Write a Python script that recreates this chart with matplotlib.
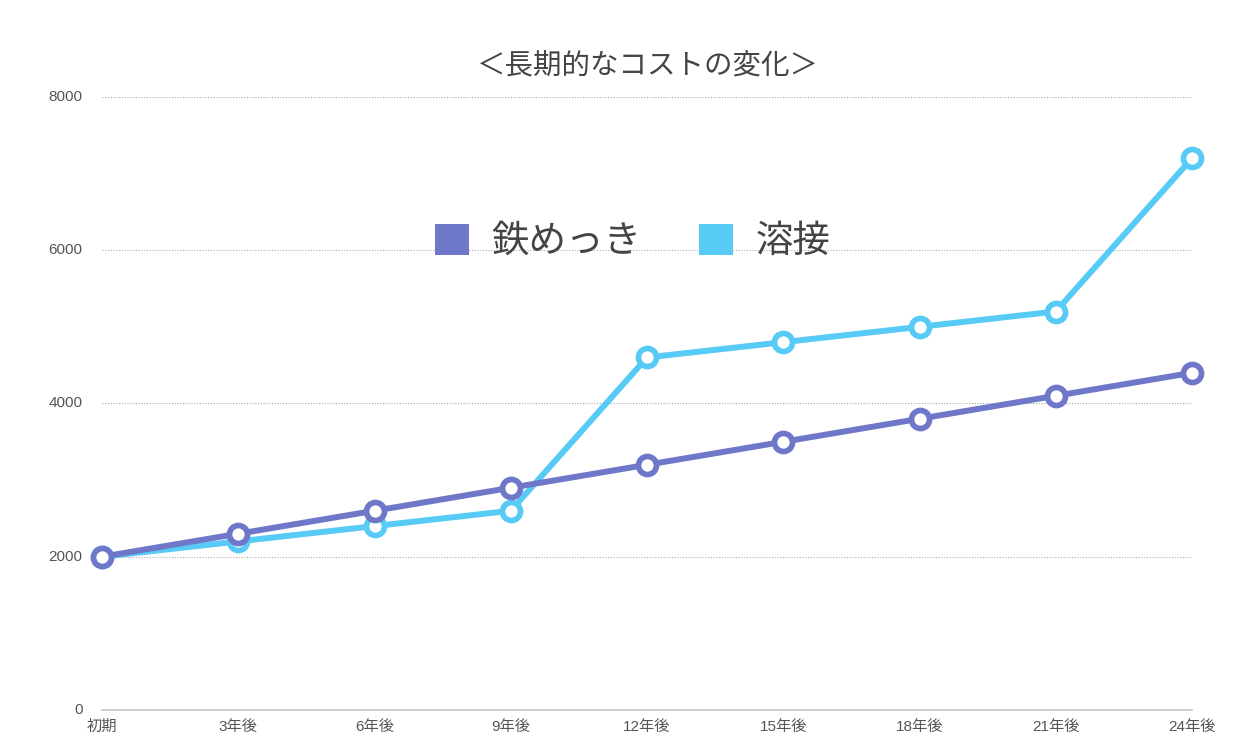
import matplotlib
matplotlib.use("Agg")
import matplotlib.pyplot as plt
from matplotlib.patches import Patch

plt.rcParams['font.family'] = ['Noto Sans CJK JP', 'DejaVu Sans']

categories = ["初期", "3年後", "6年後", "9年後", "12年後", "15年後", "18年後", "21年後", "24年後"]
plating = [2000, 2300, 2600, 2900, 3200, 3500, 3800, 4100, 4400]
welding = [2000, 2200, 2400, 2600, 4600, 4800, 5000, 5200, 7200]
series_names = ["鉄めっき", "溶接"]
yticks = [0, 2000, 4000, 6000, 8000]
title = "＜長期的なコストの変化＞"

purple = "#6f78c8"
cyan = "#57cbf5"
tick_family = ['Liberation Sans', 'Noto Sans CJK JP']

fig = plt.figure(figsize=(12.5, 7.55), dpi=100)
ax = fig.add_axes([0.0816, 0.0596, 0.872, 0.812])

x = list(range(len(categories)))
ax.plot(x, welding, color=cyan, lw=4.3, marker='o', ms=13, mew=4.1,
        mfc='white', mec=cyan, zorder=3, solid_capstyle='round', clip_on=False)
ax.plot(x, plating, color=purple, lw=4.3, marker='o', ms=13, mew=4.1,
        mfc='white', mec=purple, zorder=4, solid_capstyle='round', clip_on=False)

ax.set_xlim(0, len(categories) - 1)
ax.set_ylim(0, 8000)
ax.set_yticks(yticks)
ax.set_xticks(x)
ax.set_xticklabels(categories)
for s in ax.spines.values():
    s.set_visible(False)
ax.axhline(0, color="#c8c8c8", lw=1.2, zorder=1, clip_on=False)
for v in yticks[1:]:
    ax.axhline(v, color="#aaaaaa", lw=0.8, ls=(0, (1, 1.5)), zorder=1)
ax.tick_params(axis='both', length=0, colors="#555555")
ax.tick_params(axis='y', labelsize=11, pad=14)
ax.tick_params(axis='x', labelsize=11, pad=7)
for lab in ax.get_yticklabels() + ax.get_xticklabels():
    lab.set_family(tick_family)
for lab in ax.get_yticklabels():
    lab.set_verticalalignment('center')

fig.text(0.518, 0.912, title, ha='center', va='center', fontsize=20.5, color="#444444")

handles = [Patch(facecolor=purple, edgecolor='none'), Patch(facecolor=cyan, edgecolor='none')]
fig.legend(handles, series_names, loc='center', bbox_to_anchor=(0.506, 0.680), ncol=2,
           frameon=False, fontsize=27, handlelength=0.9, handleheight=0.9,
           handletextpad=0.6, columnspacing=1.54, labelcolor="#444444")

fig.savefig("out.png", dpi=100, facecolor='white')
